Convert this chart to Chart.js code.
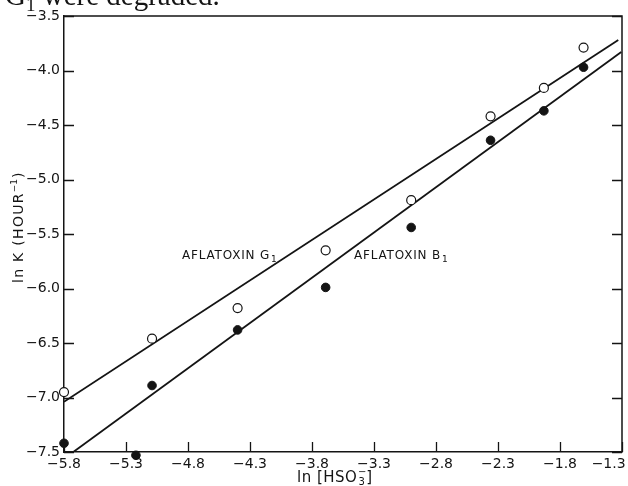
<!DOCTYPE html>
<html>
<head>
<meta charset="utf-8">
<script src="https://cdn.jsdelivr.net/npm/chart.js@4.4.1/dist/chart.umd.min.js"></script>
<style>
  html, body { margin: 0; padding: 0; background: #fff; }
  #wrap { width: 628px; height: 486px; position: relative; }
</style>
</head>
<body>
<div id="wrap"><canvas id="c" width="628" height="486"></canvas></div>
<script>
// Axis ticks
const xTicks = [-5.8, -5.3, -4.8, -4.3, -3.8, -3.3, -2.8, -2.3, -1.8, -1.3];
const yTicks = [-7.5, -7.0, -6.5, -6.0, -5.5, -5.0, -4.5, -4.0, -3.5];

// Aflatoxin G1 (open circles)
const g1X = [-5.8, -5.09, -4.40, -3.69, -3.00, -2.36, -1.93, -1.61];
const g1Y = [-6.95, -6.46, -6.18, -5.65, -5.19, -4.42, -4.16, -3.79];

// Aflatoxin B1 (filled circles)
const b1X = [-5.8, -5.22, -5.09, -4.40, -3.69, -3.00, -2.36, -1.93, -1.61];
const b1Y = [-7.42, -7.53, -6.89, -6.38, -5.99, -5.44, -4.64, -4.37, -3.97];

// Fitted regression lines (end points)
const g1FitX = [-5.8, -1.33];
const g1FitY = [-7.04, -3.72];
const b1FitX = [-5.725, -1.306];
const b1FitY = [-7.5, -3.83];

const ink = '#141414';
const fontFam = '"DejaVu Sans", "Liberation Sans", sans-serif';

const pts = (xs, ys) => xs.map((x, i) => ({ x, y: ys[i] }));
const fmt = v => Number(v).toFixed(1).replace('-', '\u2212');
// the last x label sits at the canvas edge, so it is padded to stay readable
const fmtX = v => (Math.abs(v - xTicks[xTicks.length - 1]) < 1e-9 ? fmt(v) + '\u2007\u2007\u2007' : fmt(v));

// Frame, inward tick marks and free-standing text
const decor = {
  id: 'decor',
  afterDraw(chart) {
    const { ctx, chartArea: a, scales: { x, y } } = chart;
    ctx.save();
    ctx.strokeStyle = ink;
    ctx.lineWidth = 1.5;
    ctx.beginPath();
    ctx.moveTo(a.left, a.top);
    ctx.lineTo(a.right, a.top);
    ctx.lineTo(a.right, a.bottom);
    ctx.stroke();

    ctx.lineWidth = 1.3;
    ctx.beginPath();
    xTicks.forEach(v => {
      const px = Math.round(x.getPixelForValue(v)) + 0.5;
      ctx.moveTo(px, a.bottom);
      ctx.lineTo(px, a.bottom - 10);
    });
    yTicks.forEach(v => {
      const py = Math.round(y.getPixelForValue(v)) + 0.5;
      ctx.moveTo(a.left, py);
      ctx.lineTo(a.left + 10, py);
      ctx.moveTo(a.right, py);
      ctx.lineTo(a.right - 10, py);
    });
    ctx.stroke();

    ctx.fillStyle = ink;
    ctx.textBaseline = 'alphabetic';
    ctx.textAlign = 'left';

    // Series labels
    const label = (txt, sub, lx, ly) => {
      ctx.font = '12px ' + fontFam;
      ctx.letterSpacing = '0.8px';
      ctx.fillText(txt, lx, ly);
      const w = ctx.measureText(txt).width;
      ctx.font = '9px ' + fontFam;
      ctx.letterSpacing = '0px';
      ctx.fillText(sub, lx + w + 1, ly + 3);
    };
    label('AFLATOXIN G', '1', 182, 259);
    label('AFLATOXIN B', '1', 354, 259);

    // X axis title: ln [HSO3-]
    ctx.font = '15px ' + fontFam;
    ctx.letterSpacing = '0.5px';
    let tx = 297, ty = 482;
    const head = 'ln [HSO';
    ctx.fillText(head, tx, ty);
    tx += ctx.measureText(head).width;
    ctx.font = '10px ' + fontFam;
    ctx.fillText('3', tx + 1, ty + 3);
    ctx.fillText('\u2212', tx + 0.5, ty - 7);
    tx += ctx.measureText('3').width + 2;
    ctx.font = '15px ' + fontFam;
    ctx.fillText(']', tx, ty);

    // Y axis title: ln K (HOUR-1)
    ctx.save();
    ctx.translate(23, 283);
    ctx.rotate(-Math.PI / 2);
    ctx.font = '14px ' + fontFam;
    ctx.letterSpacing = '1.3px';
    const t1 = 'ln K (HOUR';
    ctx.fillText(t1, 0, 0);
    let w1 = ctx.measureText(t1).width;
    ctx.font = '9px ' + fontFam;
    ctx.letterSpacing = '0px';
    ctx.fillText('\u22121', w1, -6);
    w1 += ctx.measureText('\u22121').width + 1;
    ctx.font = '14px ' + fontFam;
    ctx.fillText(')', w1, 0);
    ctx.restore();

    // Running text above the figure
    const serif = '"Liberation Serif", "DejaVu Serif", serif';
    ctx.font = '29px ' + serif;
    ctx.letterSpacing = '0px';
    ctx.fillText('G', 5, 5);
    const gw = ctx.measureText('G').width;
    ctx.font = '19px ' + serif;
    ctx.fillText('1', 5 + gw, 11);
    const sw = ctx.measureText('1').width;
    ctx.font = '29px ' + serif;
    ctx.fillText(' were degraded.', 5 + gw + sw, 5);
    ctx.restore();
  }
};

new Chart(document.getElementById('c'), {
  type: 'scatter',
  data: {
    datasets: [
      {
        label: 'Aflatoxin G1',
        data: pts(g1X, g1Y),
        backgroundColor: '#fff',
        borderColor: ink,
        borderWidth: 1.2,
        pointRadius: 4.5,
        clip: false
      },
      {
        label: 'Aflatoxin B1',
        data: pts(b1X, b1Y),
        backgroundColor: ink,
        borderColor: ink,
        borderWidth: 1,
        pointRadius: 4.3,
        clip: false
      },
      {
        label: 'G1 fit',
        data: pts(g1FitX, g1FitY),
        showLine: true,
        borderColor: ink,
        borderWidth: 1.8,
        pointRadius: 0
      },
      {
        label: 'B1 fit',
        data: pts(b1FitX, b1FitY),
        showLine: true,
        borderColor: ink,
        borderWidth: 1.8,
        pointRadius: 0
      }
    ]
  },
  options: {
    responsive: false,
    animation: false,
    devicePixelRatio: 1,
    layout: { autoPadding: false, padding: { top: 16, right: 6, left: 0, bottom: 0 } },
    plugins: { legend: { display: false }, tooltip: { enabled: false } },
    scales: {
      x: {
        type: 'linear',
        position: 'bottom',
        min: -5.8,
        max: -1.3,
        afterBuildTicks: s => { s.ticks = xTicks.map(value => ({ value })); },
        afterFit: s => { s.height = 34; s.paddingLeft = 0; s.paddingRight = 0; },
        grid: { display: false, drawTicks: false },
        border: { display: true, color: ink, width: 1.5 },
        ticks: {
          color: ink,
          padding: 4,
          maxRotation: 0,
          autoSkip: false,
          font: { family: fontFam, size: 14 },
          callback: v => fmtX(v)
        }
      },
      y: {
        type: 'linear',
        position: 'left',
        min: -7.5,
        max: -3.5,
        afterBuildTicks: s => { s.ticks = yTicks.map(value => ({ value })); },
        afterFit: s => { s.width = 64; s.paddingTop = 0; s.paddingBottom = 0; },
        grid: { display: false, drawTicks: false },
        border: { display: true, color: ink, width: 1.5 },
        ticks: {
          color: ink,
          padding: 4,
          autoSkip: false,
          font: { family: fontFam, size: 14 },
          callback: v => fmt(v)
        }
      }
    }
  },
  plugins: [decor]
});
</script>
</body>
</html>
